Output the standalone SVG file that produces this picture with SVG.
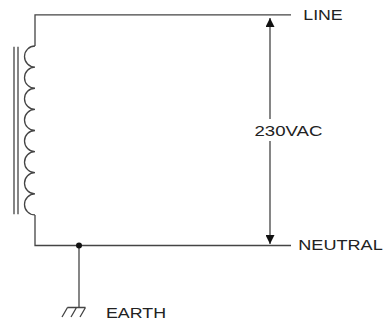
<svg xmlns="http://www.w3.org/2000/svg" width="385" height="322" viewBox="0 0 385 322">
<defs>
<style>
.w{fill:none;stroke:#444;stroke-width:1.3}
.t{font-family:"Liberation Sans",Arial,sans-serif;font-size:14.5px;fill:#222}
</style>
<marker id="ah" viewBox="0 0 10 10" refX="10" refY="5" markerWidth="9" markerHeight="9" markerUnits="userSpaceOnUse" orient="auto"><path d="M0,0L10,5L0,10z" fill="#111"/></marker>
</defs>
<rect width="385" height="322" fill="#fff"/>
<g id="connectors">
<path class="w" d="M291,14.8H35V46"/>
<path class="w" d="M35,215V245.5H291"/>
<path class="w" d="M79,245.5V307.5"/>
<path class="w" stroke="#111" d="M270,119V18" marker-end="url(#ah)"/>
<path class="w" stroke="#111" d="M270,141V244" marker-end="url(#ah)"/>
</g>
<g id="transformer">
<path class="w" d="M35,46a10.5,10.56 0 0 0 0,21.12a10.5,10.56 0 0 0 0,21.12a10.5,10.56 0 0 0 0,21.12a10.5,10.56 0 0 0 0,21.12a10.5,10.56 0 0 0 0,21.12a10.5,10.56 0 0 0 0,21.12a10.5,10.56 0 0 0 0,21.12a10.5,10.56 0 0 0 0,21.12"/>
<path class="w" d="M14,46.7V214.3M18,46.7V214.3"/>
</g>
<g id="junction"><circle cx="79" cy="245.5" r="3" fill="#111"/></g>
<g id="earth">
<path class="w" d="M67.5,307.5H85.5M67.5,307.5L62,317M76.5,307.5L71,317M85.5,307.5L80,317"/>
<text class="t" x="106" y="317.5" textLength="60" lengthAdjust="spacingAndGlyphs">EARTH</text>
</g>
<g id="line"><text class="t" x="303.3" y="20" textLength="39.4" lengthAdjust="spacingAndGlyphs">LINE</text></g>
<g id="neutral"><text class="t" x="298.3" y="249.7" textLength="84.4" lengthAdjust="spacingAndGlyphs">NEUTRAL</text></g>
<g id="voltage"><text class="t" x="254.5" y="136" textLength="68" lengthAdjust="spacingAndGlyphs">230VAC</text></g>
</svg>
